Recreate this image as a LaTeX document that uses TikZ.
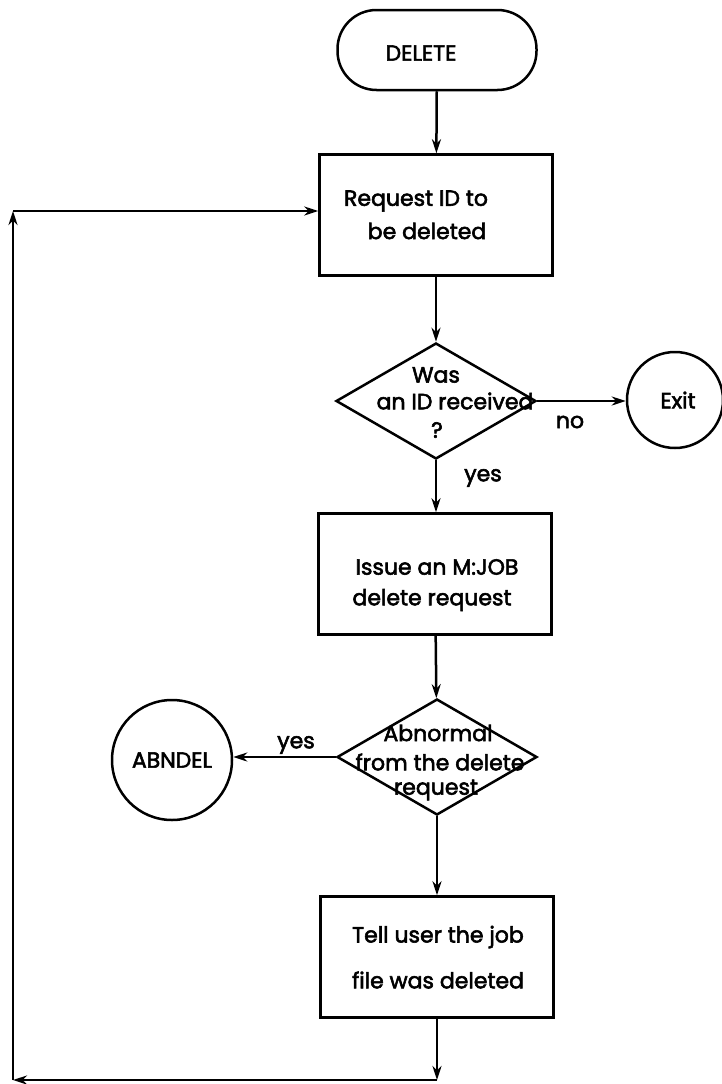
\documentclass[tikz,border=0pt]{standalone}
\usepackage{fontspec}
\setmainfont{Poppins}[FakeBold=2.5]
\usetikzlibrary{shapes.geometric,arrows.meta}

\tikzset{
  lw/.style={line width=2.5pt},
  flow/.style={lw, -{Stealth[length=14pt,width=9pt]}},
  termbox/.style={draw, lw, rectangle, rounded corners=39pt,
    minimum width=199pt, minimum height=80pt, inner sep=0pt},
  procbox/.style={draw, lw, rectangle, minimum width=233pt,
    minimum height=121pt, inner sep=0pt},
  decision/.style={draw, lw, diamond, minimum width=200pt,
    minimum height=116pt, inner sep=0pt},
  endpoint/.style={draw, lw, circle, inner sep=0pt},
  txt/.style={font=\fontsize{22}{24}\selectfont, inner sep=0pt, anchor=center}
}

\begin{document}
\begin{tikzpicture}[x=1pt,y=-1pt]
\useasboundingbox (0,0) rectangle (722,1084);

% shapes of the main column
\node[termbox] (start) at (437,50) {};
\node[procbox] (req) at (436,215) {};
\node[decision] (askid) at (436,401) {};
\node[endpoint, minimum size=96pt] (exit) at (675,400) {};
\node[procbox] (issue) at (435,574) {};
\node[decision] (abn) at (437,757) {};
\node[endpoint, minimum size=120pt] (abndel) at (172,760) {};
\node[procbox] (tell) at (437,957) {};

% texts
\node[txt] (startT) at (421,53) {DELETE};
\node[txt] (reqT1) at (416,201) {Request ID to};
\node[txt] (reqT2) at (427,231) {be deleted};
\node[txt] (askT1) at (436,375) {Was};
\node[txt] (askT2) at (455,401) {an ID received};
\node[txt] (askT3) at (437,430) {?};
\node[txt] (exitT) at (678,400) {Exit};
\node[txt] (issT1) at (437,567) {Issue an M:JOB};
\node[txt] (issT2) at (432,600) {delete request};
\node[txt] (abnT1) at (438,733) {Abnormal};
\node[txt] (abnT2) at (440,762) {from the delete};
\node[txt] (abnT3) at (436,790) {request};
\node[txt] (abndelT) at (172,760) {ABNDEL};
\node[txt] (tellT1) at (438,937) {Tell user the job};
\node[txt] (tellT2) at (438,980) {file was deleted};

% corners of the return loop
\coordinate (loopB) at (437,1080);
\coordinate (loopBL) at (13,1080);
\coordinate (loopTL) at (13,211);

% connectors
\draw[flow] (start) -- (req);
\draw[flow] (req) -- (askid);
\draw[flow] (askid.east) -- (exit.west |- askid.east);
\node[txt] (no) at (570,422) {no};
\draw[flow] (askid.south) -- (askid.south |- issue.north);
\node[txt] (yes1) at (483,478) {yes};
\draw[flow] (issue) -- (abn);
\draw[flow] (abn.west) -- (abndel.east |- abn.west);
\node[txt] (yes2) at (296,745) {yes};
\draw[flow] (abn.south) -- (tell.north);

% return loop back to the request step
\draw[flow] (tell.south) -- (loopB);
\draw[flow] (loopB) -- (loopBL);
\draw[flow] (loopBL) -- (loopTL);
\draw[flow] (loopTL) -- (req.west |- loopTL);
\end{tikzpicture}
\end{document}
